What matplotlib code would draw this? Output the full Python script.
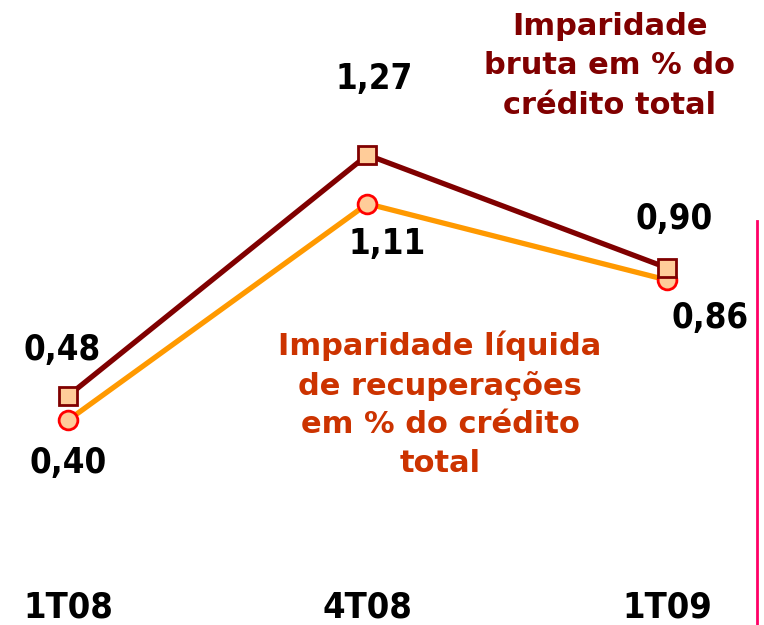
import matplotlib
matplotlib.use("Agg")
import matplotlib.pyplot as plt

categories = ["1T08", "4T08", "1T09"]
bruta = [0.48, 1.27, 0.90]
liquida = [0.40, 1.11, 0.86]
bruta_labels = ["0,48", "1,27", "0,90"]
liquida_labels = ["0,40", "1,11", "0,86"]
title_bruta = "Imparidade\nbruta em % do\ncrédito total"
title_liquida = "Imparidade líquida\nde recuperações\nem % do crédito\ntotal"

W, H = 764, 625
fig = plt.figure(figsize=(W / 100, H / 100), dpi=100)
ax = fig.add_axes([0, 0, 1, 1])
ax.set_xlim(-0.227, 2.324)
ax.set_ylim(-0.271, 1.778)
ax.axis("off")

x = list(range(len(categories)))
ax.plot(x, bruta, color="#800000", lw=3.8, marker="s", ms=13.5,
        mfc="#FFCC99", mec="#800000", mew=2, zorder=3)
ax.plot(x, liquida, color="#FF9900", lw=3.8, marker="o", ms=13.5,
        mfc="#FFCC99", mec="#FF0000", mew=2, zorder=2)

font = "DejaVu Sans"
fs_num = 25
num_kw = dict(ha="center", va="center", fontsize=fs_num, fontweight="bold",
              family=font, stretch="condensed", color="black")
b_off = [(-4, 33), (5, 55), (5, 35)]
l_off = [(0, -31), (14, -29), (31, -27)]
for i in x:
    ax.annotate(bruta_labels[i], (i, bruta[i]), xytext=b_off[i],
                textcoords="offset points", **num_kw)
    ax.annotate(liquida_labels[i], (i, liquida[i]), xytext=l_off[i],
                textcoords="offset points", **num_kw)

cat_kw = dict(num_kw, fontsize=26, va="baseline")
for i, c in enumerate(categories):
    ax.text(i, -0.245, c, **cat_kw)

fig.text(610 / W, 1 - 66 / H, title_bruta, ha="center", va="center",
         fontsize=22, fontweight="bold", family=font, color="#800000",
         linespacing=1.45)
fig.text(440 / W, 1 - 404 / H, title_liquida, ha="center", va="center",
         fontsize=22, fontweight="bold", family=font, color="#CC3300",
         linespacing=1.42)

fig.add_artist(plt.Line2D([756.5 / W, 756.5 / W], [0, 1 - 221 / H],
                          color="#FF0066", lw=2))

fig.savefig("out.png", dpi=100)
